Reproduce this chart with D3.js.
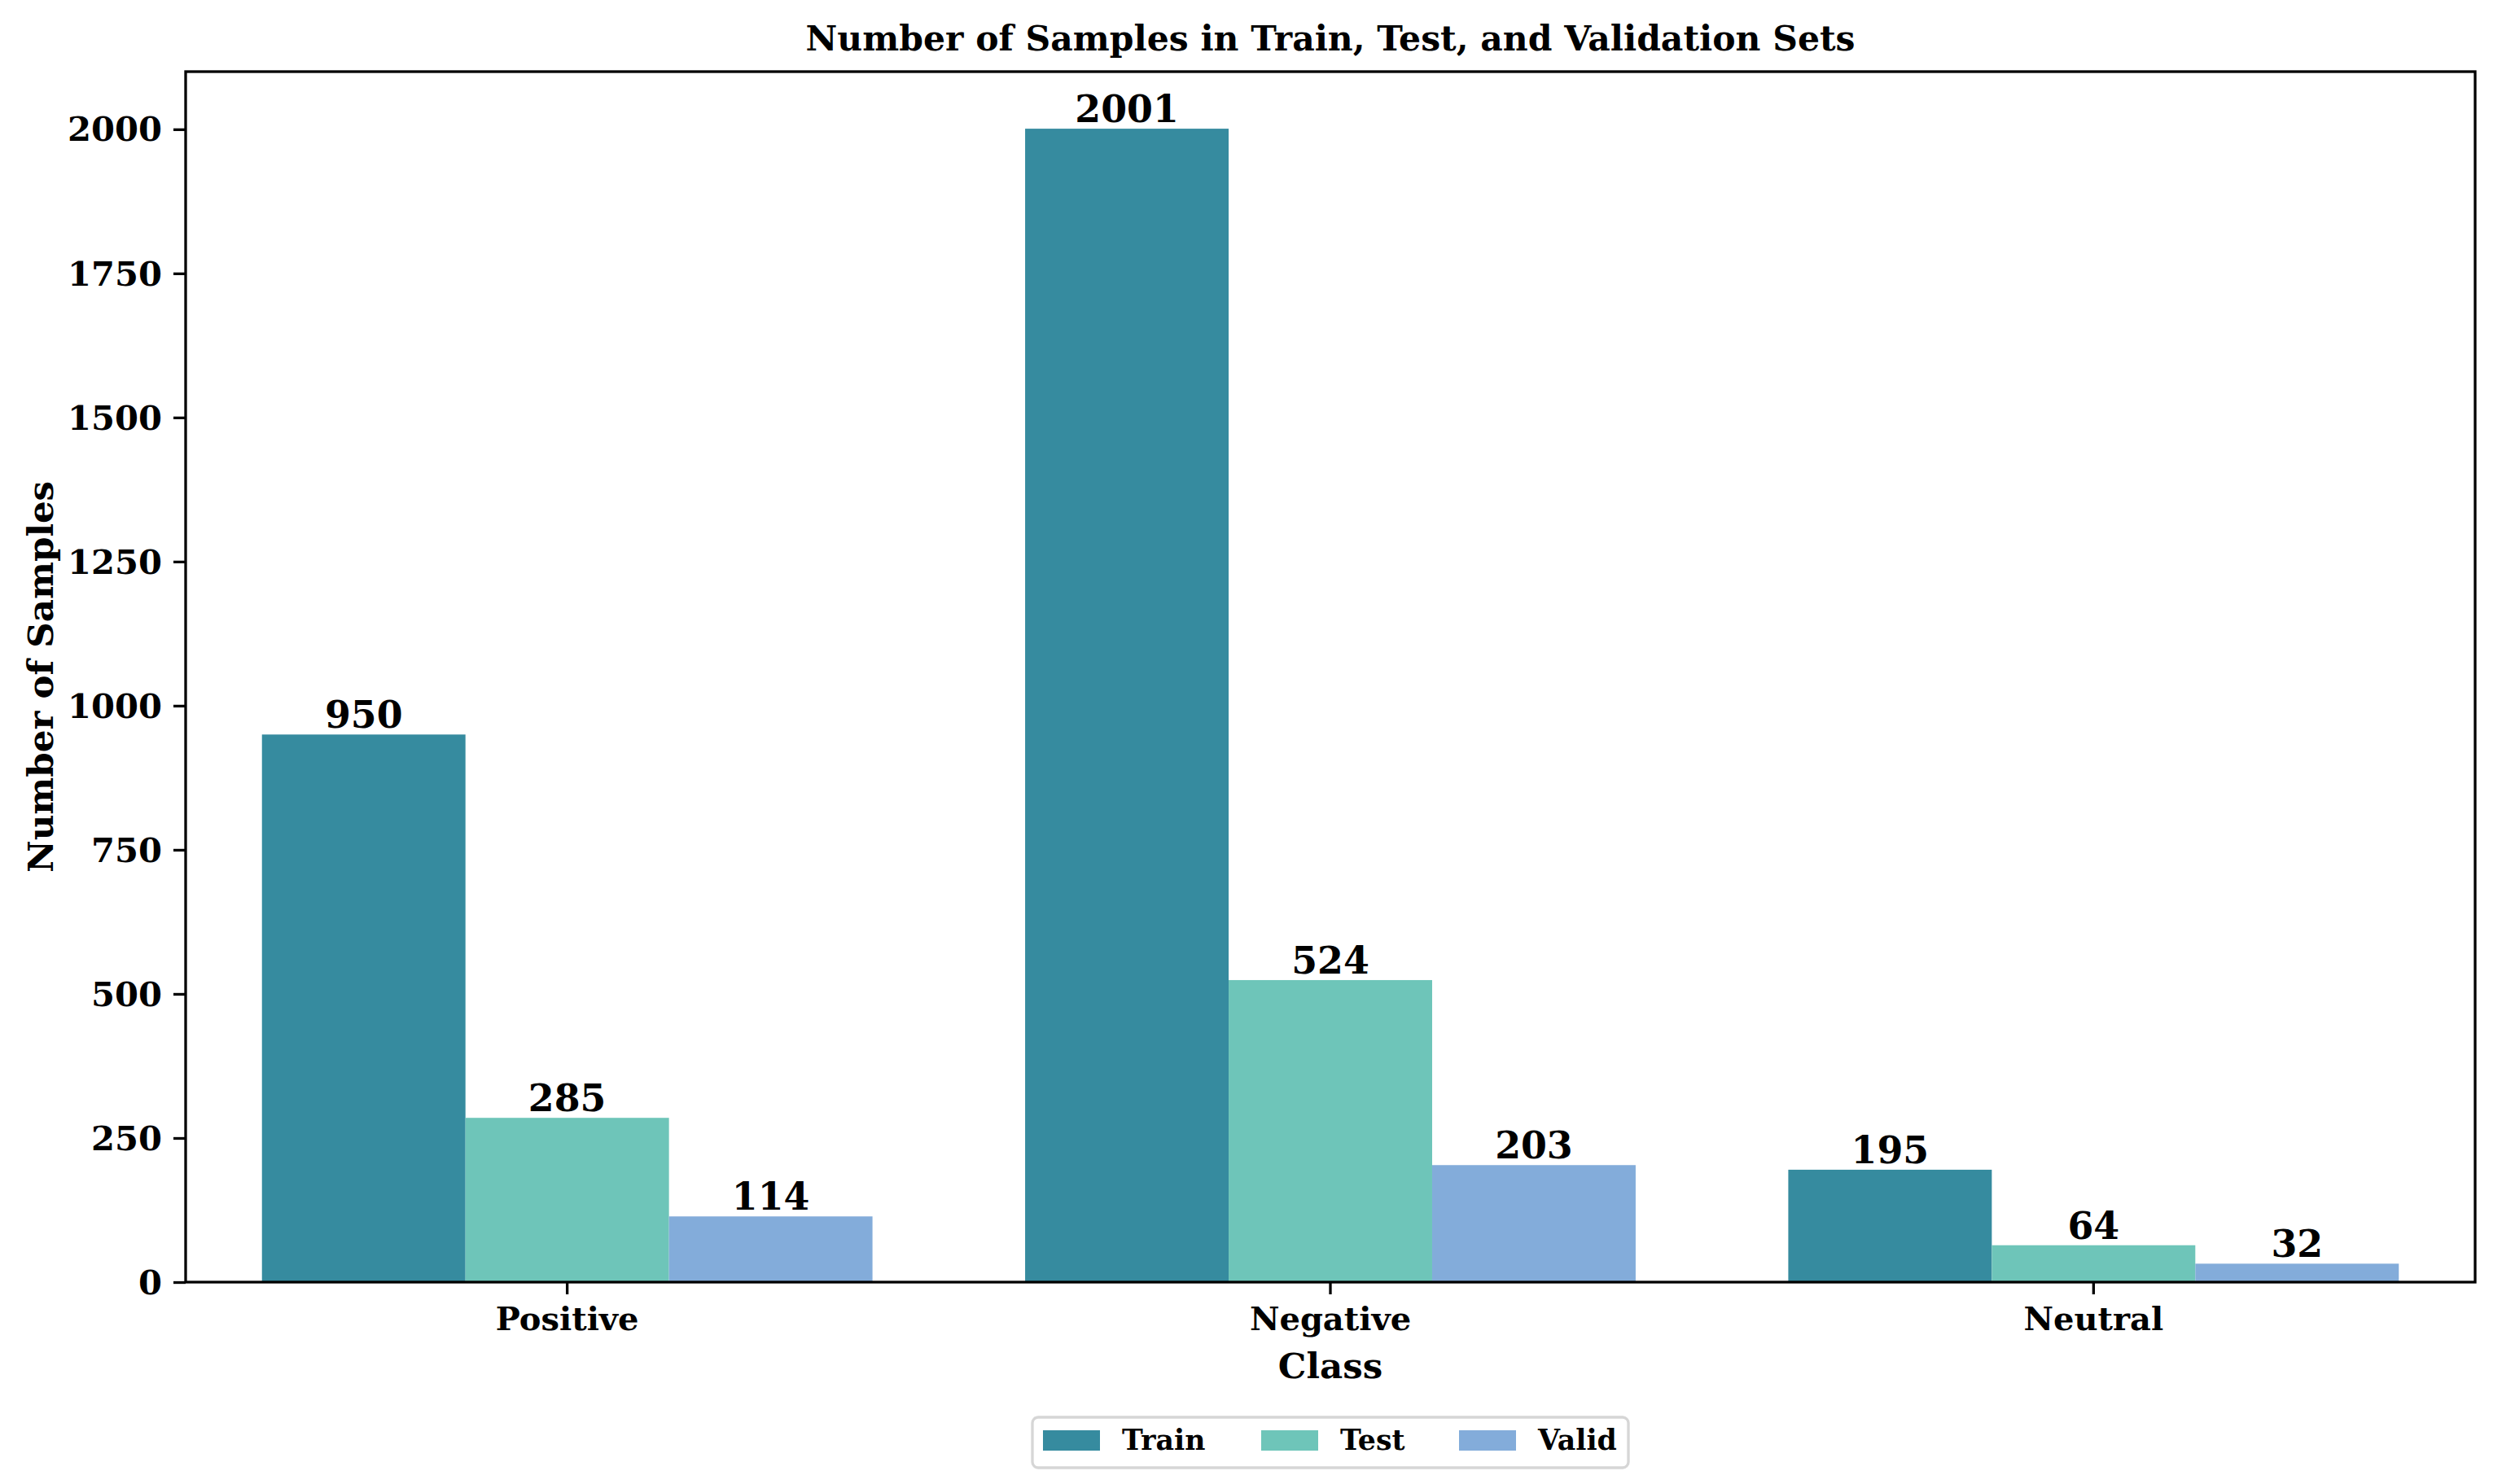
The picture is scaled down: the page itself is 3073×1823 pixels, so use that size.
<!DOCTYPE html>
<html>
<head>
<meta charset="utf-8">
<script src="https://cdn.jsdelivr.net/npm/d3@7"></script>
<style>
    body { margin: 0; background: #fff; }
    text { font-family: "DejaVu Serif", serif; font-weight: bold; fill: #000; }
</style>
</head>
<body>
<div id="chart"></div>
<script>
(function() {
    "use strict";

    var classes = ["Positive", "Negative", "Neutral"];
    var sets = ["Train", "Test", "Valid"];
    var trainCounts = [950, 2001, 195];
    var testCounts = [285, 524, 64];
    var validCounts = [114, 203, 32];
    var yTicks = [0, 250, 500, 750, 1000, 1250, 1500, 1750, 2000];
    var colors = ["#368b9f", "#6ec5b9", "#83acda"];

    var w = 3073, h = 1823;
    var left = 228, right = 3040, top = 88, bottom = 1575;

    // one row per bar: class, set, value
    var counts = [trainCounts, testCounts, validCounts];
    var rows = [];
    classes.forEach(function(c, i) {
        sets.forEach(function(s, j) {
            rows.push({cls: c, set: s, value: counts[j][i]});
        });
    });

    var svg = d3.select("#chart").append("svg")
        .attr("width", w)
        .attr("height", h);

    var x0 = d3.scaleBand().domain(classes).range([left, right]);
    var bw = x0.bandwidth();
    var x1 = d3.scaleBand().domain(sets).range([bw * 0.1, bw * 0.9]);
    var y = d3.scaleLinear().domain([0, 2100]).range([bottom, top]);
    var color = d3.scaleOrdinal().domain(sets).range(colors);

    // bars
    svg.selectAll(".bar")
        .data(rows)
        .enter()
        .append("rect")
            .attr("class", "bar")
            .attr("x", function(d) { return x0(d.cls) + x1(d.set); })
            .attr("y", function(d) { return y(d.value); })
            .attr("width", x1.bandwidth())
            .attr("height", function(d) { return bottom - y(d.value); })
            .attr("fill", function(d) { return color(d.set); });

    // value labels over bars
    svg.selectAll(".bar-label")
        .data(rows)
        .enter()
        .append("text")
            .attr("class", "bar-label")
            .attr("x", function(d) { return x0(d.cls) + x1(d.set) + x1.bandwidth() / 2; })
            .attr("y", function(d) { return y(d.value) - 8; })
            .attr("text-anchor", "middle")
            .style("font-size", "45.8px")
            .text(function(d) { return d.value; });

    // axes
    var yAxis = d3.axisLeft(y).tickValues(yTicks).tickFormat(d3.format("d"))
        .tickSize(15).tickPadding(14);
    var gy = svg.append("g").attr("transform", "translate(" + left + ",0)").call(yAxis);
    var xAxis = d3.axisBottom(x0).tickSize(15).tickPadding(14);
    var gx = svg.append("g").attr("transform", "translate(0," + bottom + ")").call(xAxis);

    [gx, gy].forEach(function(g) {
        g.select(".domain").remove();
        g.selectAll(".tick line").attr("stroke", "#000").attr("stroke-width", 3.3);
        g.selectAll(".tick text")
            .style("font-family", "'DejaVu Serif', serif")
            .style("font-weight", "bold")
            .attr("fill", "#000");
    });
    gy.selectAll(".tick text").style("font-size", "41.7px").attr("dy", "0.34em");
    gx.selectAll(".tick text").style("font-size", "40px").attr("dy", "0.76em");

    // frame
    svg.append("rect")
        .attr("x", left)
        .attr("y", top)
        .attr("width", right - left)
        .attr("height", bottom - top)
        .attr("fill", "none")
        .attr("stroke", "#000")
        .attr("stroke-width", 3.3);

    // titles
    var cx = (left + right) / 2;
    svg.append("text")
        .attr("x", cx)
        .attr("y", 62)
        .attr("text-anchor", "middle")
        .style("font-size", "42.5px")
        .text("Number of Samples in Train, Test, and Validation Sets");

    svg.append("text")
        .attr("x", cx)
        .attr("y", 1693)
        .attr("text-anchor", "middle")
        .style("font-size", "43.5px")
        .text("Class");

    svg.append("text")
        .attr("transform", "translate(65," + (top + bottom) / 2 + ") rotate(-90)")
        .attr("text-anchor", "middle")
        .style("font-size", "43.5px")
        .text("Number of Samples");

    // legend
    var legend = svg.append("g");
    legend.append("rect")
        .attr("x", 1268)
        .attr("y", 1741)
        .attr("width", 732)
        .attr("height", 62)
        .attr("rx", 7)
        .attr("fill", "#fff")
        .attr("stroke", "#d6d6d6")
        .attr("stroke-width", 3.3);

    var itemX = [1281, 1549, 1792];
    var items = legend.selectAll(".legend-item")
        .data(sets)
        .enter()
        .append("g")
            .attr("class", "legend-item")
            .attr("transform", function(d, i) { return "translate(" + itemX[i] + ",0)"; });
    items.append("rect")
        .attr("x", 0)
        .attr("y", 1757)
        .attr("width", 70)
        .attr("height", 25)
        .attr("fill", function(d) { return color(d); });
    items.append("text")
        .attr("x", 97)
        .attr("y", 1781)
        .style("font-size", "34.7px")
        .text(function(d) { return d; });
})();
</script>
</body>
</html>
